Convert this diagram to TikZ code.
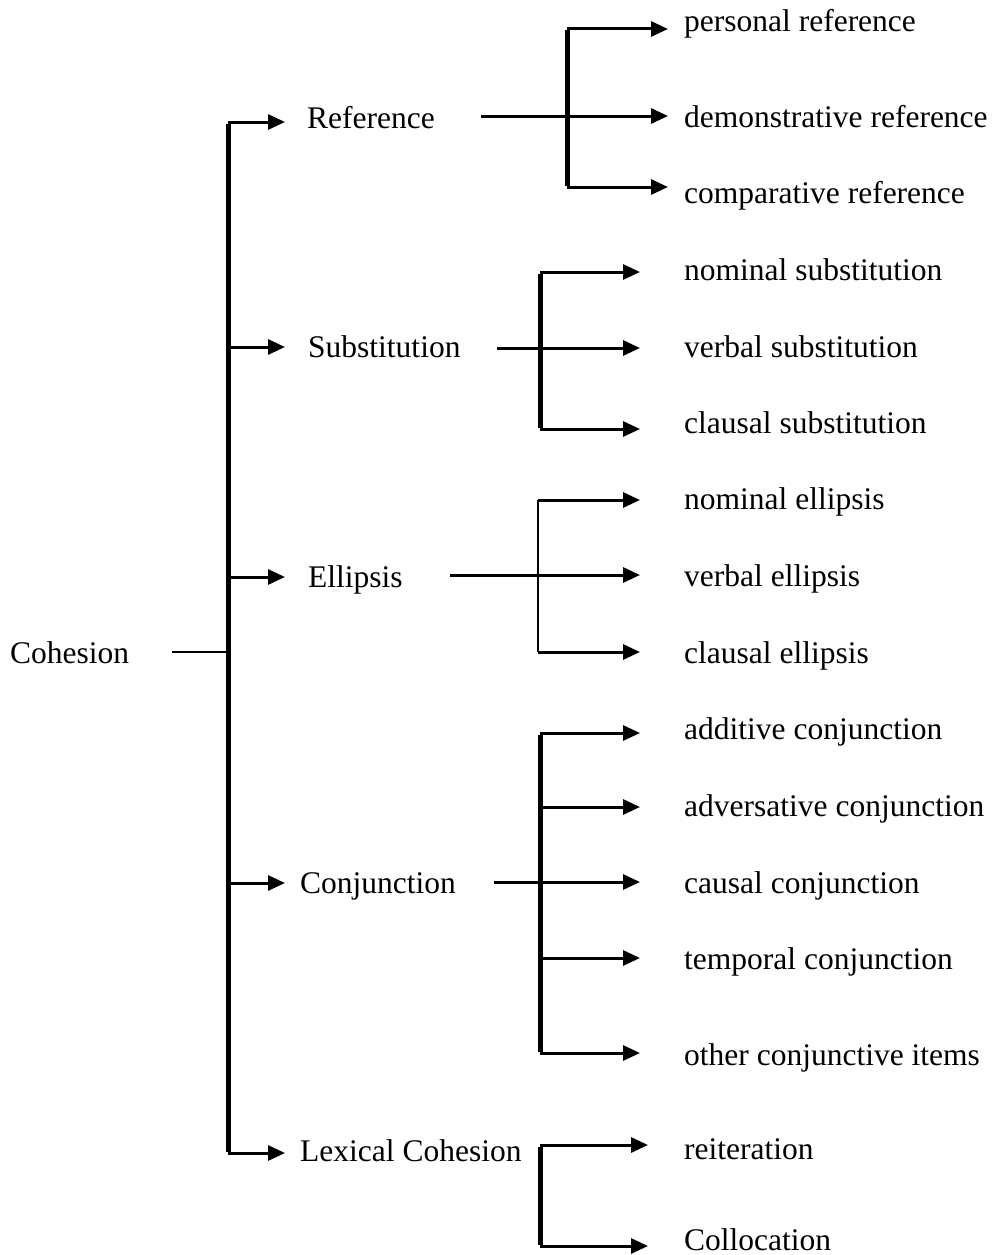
\documentclass[tikz,border=0pt]{standalone}
\usepackage{fontspec}
\setmainfont{Liberation Serif}
\usetikzlibrary{arrows.meta}

\tikzset{
	lbl/.style={anchor=base west, inner sep=0pt},
	arr/.style={line width=3pt, -{Triangle[length=17pt,width=15pt]}},
	bar/.style={line width=5pt},
	feed/.style={line width=3pt}
}

\begin{document}
\begin{tikzpicture}[x=1pt, y=-1pt, font=\fontsize{31.5}{38}\selectfont]
	\useasboundingbox (0,0) rectangle (994,1255);
	%root
	\node[lbl] (coh) at (10,663) {Cohesion};
	\coordinate (coh-out) at (172,652);
	%main branches
	\foreach \y/\yb/\x/\gap/\nm/\txt in {122/128/307/22/ref/Reference,
		347/357/308/23/sub/Substitution,
		577/587/308/23/ell/Ellipsis,
		883/893/300/15/con/Conjunction,
		1153/1161/300/15/lex/Lexical Cohesion}
	{
		\node[lbl] (\nm) at (\x,\yb) {\txt};
		\coordinate (\nm-in) at (228,\y);
		\draw[arr, shorten >=\gap pt] (\nm-in) -- (\nm-in -| \nm.west);
	}
	\draw[bar] ([yshift=-1.5pt]ref-in) -- ([yshift=1.5pt]lex-in);
	\draw[line width=2.5pt] (coh-out) -- (coh-out -| ref-in);
	%reference
	\foreach \y/\yb/\nm/\txt in {29/32/pers/personal reference,
		116/127/dem/demonstrative reference,
		187/203/comp/comparative reference}
	{
		\node[lbl] (\nm) at (684,\yb) {\txt};
		\coordinate (\nm-in) at (567,\y);
		\draw[arr, shorten >=16pt] (\nm-in) -- (\nm-in -| \nm.west);
	}
	\draw[bar] ([yshift=-1.5pt]pers-in) -- ([yshift=1.5pt]comp-in);
	\coordinate (ref-out) at (481,116);
	\draw[feed] (ref-out) -- (dem-in);
	%substitution
	\foreach \y/\yb/\nm/\txt in {272/280/nsub/nominal substitution,
		348/357/vsub/verbal substitution,
		429/433/csub/clausal substitution}
	{
		\node[lbl] (\nm) at (684,\yb) {\txt};
		\coordinate (\nm-in) at (540,\y);
		\draw[arr, shorten >=44pt] (\nm-in) -- (\nm-in -| \nm.west);
	}
	\draw[bar] ([yshift=-1.5pt]nsub-in) -- ([yshift=1.5pt]csub-in);
	\coordinate (sub-out) at (497,348);
	\draw[feed] (sub-out) -- (vsub-in);
	%ellipsis
	\foreach \y/\yb/\nm/\txt in {500/509/nell/nominal ellipsis,
		575/586/vell/verbal ellipsis,
		652/663/cell/clausal ellipsis}
	{
		\node[lbl] (\nm) at (684,\yb) {\txt};
		\coordinate (\nm-in) at (538,\y);
		\draw[arr, shorten >=44pt] (\nm-in) -- (\nm-in -| \nm.west);
	}
	\draw[line width=1.5pt] (nell-in) -- (cell-in);
	\coordinate (ell-out) at (450,575);
	\draw[feed] (ell-out) -- (vell-in);
	%conjunction
	\foreach \y/\yb/\nm/\txt in {733/739/addc/additive conjunction,
		807/816/advc/adversative conjunction,
		882/893/cauc/causal conjunction,
		958/969/temc/temporal conjunction,
		1053/1065/othc/other conjunctive items}
	{
		\node[lbl] (\nm) at (684,\yb) {\txt};
		\coordinate (\nm-in) at (540,\y);
		\draw[arr, shorten >=44pt] (\nm-in) -- (\nm-in -| \nm.west);
	}
	\draw[bar] ([yshift=-1.5pt]addc-in) -- ([yshift=1.5pt]othc-in);
	\coordinate (con-out) at (494,882);
	\draw[feed] (con-out) -- (cauc-in);
	%lexical cohesion
	\foreach \y/\yb/\nm/\txt in {1145/1159/reit/reiteration,
		1246/1250/coll/Collocation}
	{
		\node[lbl] (\nm) at (684,\yb) {\txt};
		\coordinate (\nm-in) at (540,\y);
		\draw[arr, shorten >=36pt] (\nm-in) -- (\nm-in -| \nm.west);
	}
	\draw[bar] ([yshift=-1.5pt]reit-in) -- ([yshift=1.5pt]coll-in);
\end{tikzpicture}
\end{document}
